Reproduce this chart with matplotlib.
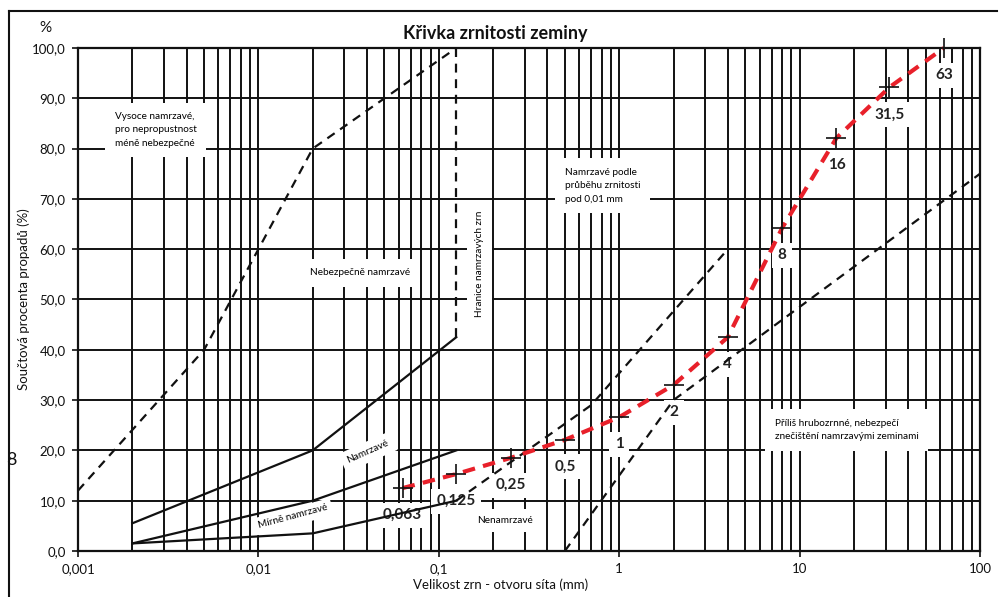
import matplotlib
matplotlib.use("Agg")
import matplotlib.pyplot as plt
from matplotlib.lines import Line2D
import numpy as np

plt.rcParams['font.family'] = ['Lato', 'DejaVu Sans']

# ---- data ----
sieve = [0.063, 0.125, 0.25, 0.5, 1, 2, 4, 8, 16, 31.5, 63]
passing = [12.5, 15.3, 18.5, 22.1, 26.6, 33.0, 42.5, 64.2, 82.1, 92.2, 100.0]
sieve_labels = ["0,063", "0,125", "0,25", "0,5", "1", "2", "4", "8", "16", "31,5", "63"]

solid_upper_x = [0.002, 0.02, 0.125]
solid_upper_y = [5.5, 20, 42.5]
solid_mid_x = [0.002, 0.02, 0.125]
solid_mid_y = [1.5, 10, 20]
solid_low_x = [0.002, 0.02, 0.125]
solid_low_y = [1.5, 3.5, 10]
dash_left_x = [0.001, 0.005, 0.02, 0.125]
dash_left_y = [12, 40, 80, 100]
dash_vert_x = [0.125, 0.125]
dash_vert_y = [42.5, 100]
dash_upper_x = [0.125, 0.7, 4]
dash_upper_y = [10, 29, 60]
dash_lower_x = [0.5, 2, 100]
dash_lower_y = [0, 30, 75]

xticks = [0.001, 0.01, 0.1, 1, 10, 100]
xtick_labels = ["0,001", "0,01", "0,1", "1", "10", "100"]
yticks = [0, 10, 20, 30, 40, 50, 60, 70, 80, 90, 100]
ytick_labels = ["0,0", "10,0", "20,0", "30,0", "40,0", "50,0", "60,0", "70,0", "80,0", "90,0", "100,0"]

fig = plt.figure(figsize=(10, 5.97), dpi=100)
ax = fig.add_axes([0.078, 0.0771, 0.902, 0.8425])
ax.set_xscale('log')
ax.set_xlim(0.001, 100)
ax.set_ylim(0, 100)

ax.set_xticks(xticks)
ax.set_xticklabels(xtick_labels, fontsize=9.5)
ax.set_yticks(yticks)
ax.set_yticklabels(ytick_labels, fontsize=9.5)
ax.xaxis.set_minor_locator(matplotlib.ticker.LogLocator(base=10, subs=np.arange(2, 10)))
ax.xaxis.set_minor_formatter(matplotlib.ticker.NullFormatter())
ax.tick_params(axis='both', which='major', length=4, width=1.2, color='#111111', pad=5,
               labelcolor='#111111')
ax.tick_params(axis='x', which='minor', length=0)
ax.grid(True, which='major', axis='both', color='#111111', lw=1.4, zorder=1)
ax.grid(True, which='minor', axis='x', color='#111111', lw=1.4, zorder=1)
ax.set_axisbelow(True)
for s in ax.spines.values():
    s.set_linewidth(1.6)
    s.set_color('#111111')

# boundary lines
lw_b = 1.6
ax.plot(solid_upper_x, solid_upper_y, color='#111111', lw=lw_b, zorder=4)
ax.plot(solid_mid_x, solid_mid_y, color='#111111', lw=lw_b, zorder=4)
ax.plot(solid_low_x, solid_low_y, color='#111111', lw=lw_b, zorder=4)
for xs, ys in [(dash_left_x, dash_left_y), (dash_vert_x, dash_vert_y),
               (dash_upper_x, dash_upper_y), (dash_lower_x, dash_lower_y)]:
    ax.plot(xs, ys, color='#111111', lw=lw_b, dashes=(4, 3), zorder=4)

# grading curve
ax.plot(sieve, passing, color='#e8202a', lw=3, dashes=(3, 2), zorder=5, clip_on=False)
ax.plot(sieve, passing, ls='none', marker='+', ms=15, mew=1.2, color='#111111', zorder=6, clip_on=False)

box = dict(facecolor='white', edgecolor='none', pad=4)
for xv, yv, lab in zip(sieve, passing, sieve_labels):
    ax.annotate(lab, (xv, yv), xytext=(0, -19.5), textcoords='offset points',
                ha='center', va='center', fontsize=11, fontweight='bold',
                color='#222222', bbox=box, zorder=3)

# region texts
small = 7.2
ax.text(0.0016, 83.7, "Vysoce namrzavé,\npro nepropustnost\nméně nebezpečné", fontsize=small,
        ha='left', va='center', linespacing=1.6, zorder=3,
        bbox=dict(facecolor='white', edgecolor='none', pad=7))
ax.text(0.0366, 55.3, "Nebezpečně namrzavé", fontsize=small, ha='center', va='center', zorder=3,
        bbox=dict(facecolor='white', edgecolor='none', pad=7))
ax.text(0.168, 57, "Hranice namrzavých zrn", fontsize=small, ha='center', va='center',
        rotation=90, zorder=3, bbox=dict(facecolor='white', edgecolor='none', pad=6))
ax.text(0.50, 72.6, "Namrzavé podle\nprůběhu zrnitosti\npod 0,01 mm", fontsize=small,
        ha='left', va='center', linespacing=1.6, zorder=3,
        bbox=dict(facecolor='white', edgecolor='none', pad=7))
ax.text(0.0405, 19.7, "Namrzavé", fontsize=small, ha='center', va='center', rotation=24,
        zorder=3, bbox=dict(facecolor='white', edgecolor='none', pad=4))
ax.text(0.0156, 6.8, "Mírně namrzavé", fontsize=small, ha='center', va='center', rotation=15,
        zorder=3, bbox=dict(facecolor='white', edgecolor='none', pad=3))
ax.text(0.233, 6.0, "Nenamrzavé", fontsize=small, ha='center', va='center', zorder=3,
        bbox=dict(facecolor='white', edgecolor='none', pad=5))
ax.text(7.3, 24.1, "Příliš hrubozrnné, nebezpečí\nznečištění namrzavými zeminami", fontsize=small,
        ha='left', va='center', linespacing=1.6, zorder=3,
        bbox=dict(facecolor='white', edgecolor='none', pad=7))

ax.set_xlabel("Velikost zrn - otvoru síta (mm)", fontsize=9.5, color='#111111')
ax.xaxis.set_label_coords(0.468, -0.054)
ax.set_ylabel("Součtová procenta propadů (%)", fontsize=9.5, color='#111111')
ax.yaxis.set_label_coords(-0.053, 0.5)

fig.text(0.495, 1 - 33 / 597, "Křivka zrnitosti zeminy", fontsize=13, fontweight='bold',
         ha='center', va='center', color='#111111')
fig.text(0.045, 1 - 28 / 597, "%", fontsize=11, ha='center', va='center', color='#111111')
fig.text(0.011, 1 - 460 / 597, "8", fontsize=13, ha='center', va='center', color='#111111')

# page frame
fig.add_artist(Line2D([0.009, 0.997], [1 - 11 / 597, 1 - 11 / 597], color='#111111', lw=1.5))
fig.add_artist(Line2D([0.009, 0.009], [0, 1 - 11 / 597], color='#111111', lw=1.5))

fig.savefig("out.png", dpi=100)
